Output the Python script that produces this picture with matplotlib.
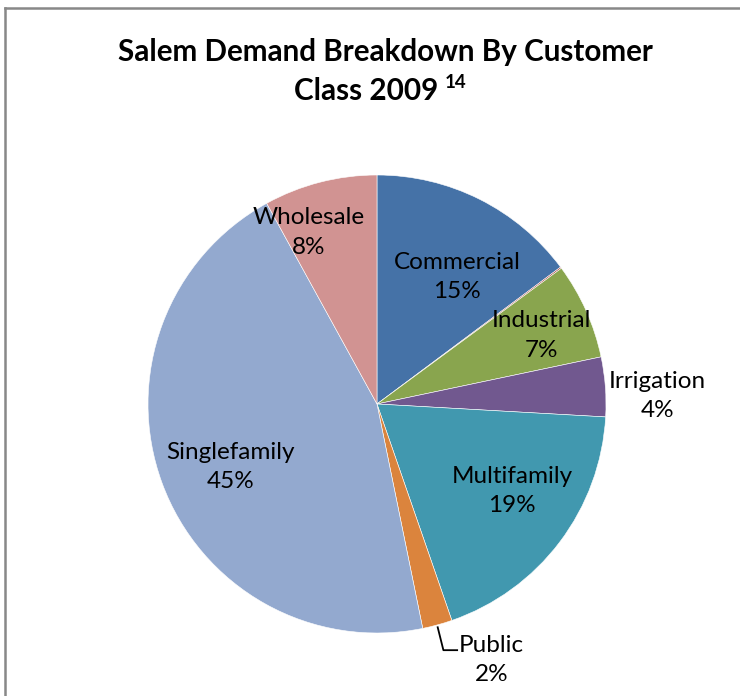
import matplotlib
matplotlib.use("Agg")
import matplotlib.pyplot as plt
from matplotlib.lines import Line2D

# customer classes, clockwise from 12 o'clock
classes = ["Commercial", "Other", "Industrial", "Irrigation", "Multifamily",
           "Public", "Singlefamily", "Wholesale"]
shares = [14.8, 0.1, 6.8, 4.2, 18.8, 2.1, 45.2, 8.0]
pct_labels = ["15%", None, "7%", "4%", "19%", "2%", "45%", "8%"]
colors = ["#4572A7", "#AA4643", "#89A54E", "#71588F", "#4198AF",
          "#DB843D", "#93A9CF", "#D19392"]

# where each label sits (x, y in pie units)
label_pos = {
    "Commercial": (0.35, 0.555),
    "Industrial": (0.72, 0.30),
    "Irrigation": (1.225, 0.035),
    "Multifamily": (0.59, -0.38),
    "Public": (0.50, -1.118),
    "Singlefamily": (-0.64, -0.275),
    "Wholesale": (-0.30, 0.75),
}

plt.rcParams['font.family'] = ['Lato', 'DejaVu Sans']

W, H = 740, 696
fig = plt.figure(figsize=(W / 100, H / 100), dpi=100)

R = 229
cx, cy = 377, 404
ax = fig.add_axes([(cx - R) / W, (H - cy - R) / H, 2 * R / W, 2 * R / H])
ax.pie(shares, colors=colors, startangle=90, counterclock=False, radius=1,
       wedgeprops=dict(edgecolor="white", linewidth=0.4))
ax.set_xlim(-1, 1)
ax.set_ylim(-1, 1)
ax.set_aspect("equal")
ax.axis("off")

for name, pct in zip(classes, pct_labels):
    if pct is None:
        continue
    x, y = label_pos[name]
    ax.text(x, y, name + "\n" + pct, ha="center", va="center", fontsize=17.5,
            linespacing=1.5, clip_on=False)

# leader line for the small Public slice
ax.plot([0.265, 0.29, 0.35], [-0.975, -1.075, -1.075], color="black",
        lw=1.3, clip_on=False)

fig.text(385 / W, 1 - 52 / H, "Salem Demand Breakdown By Customer",
         ha="center", va="center", fontsize=21.3, fontweight="bold")
fig.text(438 / W, 1 - 91 / H, "Class 2009", ha="right", va="center",
         fontsize=21.3, fontweight="bold")
fig.text(445 / W, 1 - 83 / H, "14", ha="left", va="center",
         fontsize=13.5, fontweight="bold")

# outer frame (top and left edges visible)
fig.add_artist(Line2D([5 / W, 1], [1 - 8 / H, 1 - 8 / H], color="#888888",
                      lw=1.8, transform=fig.transFigure))
fig.add_artist(Line2D([5 / W, 5 / W], [0, 1 - 8 / H], color="#888888",
                      lw=1.8, transform=fig.transFigure))

fig.savefig("out.png", dpi=100, facecolor="white")
